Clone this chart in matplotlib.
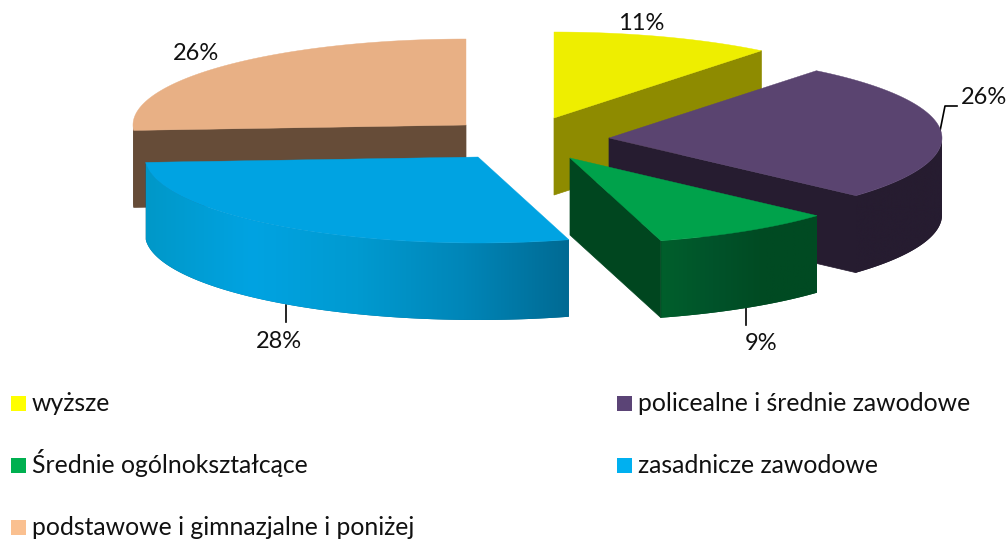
import numpy as np
import matplotlib
matplotlib.use("Agg")
import matplotlib.pyplot as plt
from matplotlib.colors import LinearSegmentedColormap
from matplotlib.patches import Polygon, Rectangle

labels = ["wyższe", "policealne i średnie zawodowe", "Średnie ogólnokształcące",
          "zasadnicze zawodowe", "podstawowe i gimnazjalne i poniżej"]
shares = [10.7, 26.0, 8.9, 28.4, 26.0]

# look of the 3d pie, in pixels
apex_x = [554, 609, 570, 478, 466]
apex_y = [118, 138, 158, 157, 125]
rx, ry, depth = 333, 86, 77
top_colors = ["#eeee00", "#5a4470", "#00a24b", "#00a3e2", "#e8b085"]
face_colors = ["#8e8b00", "#261c30", "#00461f", "#0080b0", "#664c38"]
rim_colors = [["#8e8b00"] * 2, ["#261c30"] * 2,
              ["#005f2c", "#00532a", "#004a22", "#004a22"],
              ["#0098c8", "#00a3e2", "#009ad0", "#0086b8", "#006a93"], ["#664c38"] * 2]
legend_colors = ["#ffff00", "#5b4476", "#00b050", "#00b0f0", "#fac090"]
legend_x = [11, 617, 11, 617, 11]
legend_y = [411, 411, 473, 473, 535]

plt.rcParams["font.family"] = ["Lato", "DejaVu Sans"]
fig = plt.figure(figsize=(10.08, 5.39), dpi=100)
ax = fig.add_axes([0, 0, 1, 1])


def rim_point(cx, cy, deg):
    a = np.radians(deg)
    return cx + rx * np.sin(a), cy - ry * np.cos(a)


def draw_slice(i, start, end, z):
    cx, cy = apex_x[i], apex_y[i]
    # outer wall, only between 90 and 270 degrees it can be seen
    lo, hi = max(start, 90), min(end, 270)
    if lo < hi:
        t = np.linspace(lo, hi, 100)
        px, py = rim_point(cx, cy, t)
        verts = np.column_stack([np.r_[px, px[::-1]], np.r_[py, py[::-1] + depth]])
        patch = Polygon(verts, closed=True, fc=rim_colors[i][-1], ec="none", zorder=z)
        ax.add_patch(patch)
        cmap = LinearSegmentedColormap.from_list("rim", rim_colors[i])
        grad = np.linspace(0, 1, 256).reshape(1, -1)
        im = ax.imshow(grad, cmap=cmap, aspect="auto", zorder=z,
                       extent=[px.min(), px.max(), py.max() + depth, py.min()])
        im.set_clip_path(patch)
    # radial walls that face the viewer
    for deg, normal in ((start, start - 90), (end, end + 90)):
        if np.cos(np.radians(normal)) < 0:
            px, py = rim_point(cx, cy, deg)
            ax.add_patch(Polygon([(cx, cy), (px, py), (px, py + depth), (cx, cy + depth)],
                                 closed=True, fc=face_colors[i], ec=face_colors[i], lw=0.5, zorder=z + 0.2))
    # top
    t = np.linspace(start, end, 120)
    px, py = rim_point(cx, cy, t)
    verts = np.column_stack([np.r_[cx, px], np.r_[cy, py]])
    ax.add_patch(Polygon(verts, closed=True, fc=top_colors[i], ec=top_colors[i], lw=0.3, zorder=z + 0.5))


edges = np.cumsum([0] + shares) / sum(shares) * 360
# back slices first
for z, i in enumerate([4, 0, 1, 2, 3]):
    draw_slice(i, edges[i], edges[i + 1], z + 2)

# leader lines
ax.plot([940, 945, 957], [131, 106, 106], color="black", lw=1.2, zorder=1)
ax.plot([746, 746], [308, 325], color="black", lw=1.2, zorder=1)
ax.plot([286, 286], [305, 322], color="black", lw=1.2, zorder=1)

# percent labels
label_xy = [(641, 24), (984, 98), (761, 343), (279, 341), (196, 53)]
for v, (x, y) in zip(shares, label_xy):
    ax.text(x, y, f"{round(v)}%", ha="center", va="center", fontsize=17, color="#111111", zorder=20)

# legend
for name, col, x, y in zip(labels, legend_colors, legend_x, legend_y):
    ax.add_patch(Rectangle((x, y - 15), 15, 15, fc=col, ec="none", zorder=20))
    ax.text(x + 21, y, name, ha="left", va="baseline", fontsize=17.8, color="#111111", zorder=20)

ax.set_xlim(0, 1008)
ax.set_ylim(539, 0)
ax.axis("off")
fig.savefig("out.png", dpi=100)
